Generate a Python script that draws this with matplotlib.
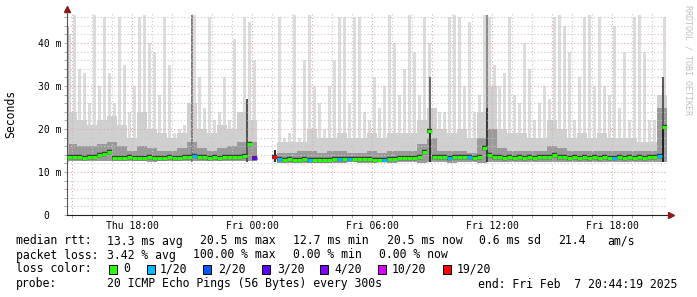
import numpy as np
import matplotlib.pyplot as plt
from matplotlib.patches import Rectangle

# time axis in hours since Thu 00:00; graph ends Fri 20:44:19, spans 30 h
t_end = 44 + 44 / 60 + 19 / 3600
t_start = t_end - 30

# top of the lightest smoke (slowest ping), 15 minute steps, ms
rtt_max = [42, 46.5, 34, 33, 26, 46.5, 30, 46, 33, 26, 46, 35, 24, 30, 46, 46.5, 40, 38, 28, 46,
           35, 19, 20, 21, 22, 46.5, 32, 25, 46, 22, 24, 32, 22, 41, 24, 46, 45, 36, np.nan, np.nan,
           np.nan, 16, 46, 18, 19, 46.5, 18, 36, 46.5, 30, 26, 20, 30, 36, 46, 46, 26, 46, 46, 24,
           22, 32, 25, 30, 46.5, 40, 28, 34, 46.5, 38, 28, 46, 40, 22, 24, 24, 46, 46.5, 46, 30,
           45, 24, 28, 46.5, 46, 35, 30, 33, 46, 28, 26, 40, 34, 22, 26, 30, 27, 46, 46.5, 44,
           38, 22, 32, 46, 46.5, 30, 46, 30, 28, 44, 25, 38, 22, 46, 46.5, 38, 22, 22, 26, 46]

# median rtt, 15 minute steps, ms
rtt_median = [13.5, 13.4, 13.5, 13.3, 13.4, 13.6, 14.0, 14.2, 14.6, 13.2, 13.3, 13.2, 13.4, 13.3, 13.2, 13.3, 13.4, 13.3, 13.2, 13.3,
              13.4, 13.3, 13.3, 13.4, 13.6, 13.8, 13.5, 13.4, 13.3, 13.4, 13.3, 13.4, 13.5, 13.4, 13.6, 13.7, 16.5, 13.2, np.nan, np.nan,
              np.nan, 13.6, 13.1, 12.9, 13.0, 12.9, 12.7, 13.0, 12.9, 12.8, 12.9, 12.8, 12.9, 13.0, 13.0, 13.0, 13.1, 13.0, 13.1, 13.0,
              13.0, 12.9, 12.9, 12.8, 13.0, 13.1, 13.2, 13.2, 13.3, 13.2, 13.4, 14.6, 19.5, 13.6, 13.5, 13.4, 13.3, 13.5, 13.6, 13.5,
              13.4, 13.3, 13.4, 15.5, 14.0, 13.6, 13.4, 13.3, 13.4, 13.3, 13.4, 13.3, 13.4, 13.3, 13.4, 13.5, 13.6, 14.0, 13.5, 13.4,
              13.3, 13.4, 13.3, 13.4, 13.3, 13.4, 13.3, 13.4, 13.3, 13.2, 13.4, 13.2, 13.5, 13.3, 13.4, 13.3, 13.5, 13.4, 13.8, 20.5]

# steps with packet loss (index into the 15 minute steps) and lost pings of 20
loss_steps = [25, 37, 41, 42, 48, 54, 56, 63, 76, 80, 109, 118]
loss_counts = [1, 3, 19, 1, 1, 1, 1, 1, 1, 1, 1, 1]

# inner smoke bands, 30 minute steps, ms
rtt_mid = [24, 22, 21, 22, 23, 21, 18, 24, 20, 19, 18, 19, 26, 20, 19, 21, 20, 24, 22, np.nan,
           np.nan, 17, 17, 17, 20, 18, 18, 19, 18, 18, 19, 18, 19, 19, 19, 22, 25, 20, 19, 20,
           18, 24, 30, 20, 19, 19, 18, 18, 22, 20, 18, 19, 18, 19, 18, 18, 18, 17, 17, 28]
rtt_dark = [16.5, 16, 16, 16.5, 17, 16, 15, 16, 15.5, 15, 15, 15.5, 17, 15.5, 15, 15.5, 16, 17, 17, np.nan,
            np.nan, 14.5, 14.5, 15, 15, 14.5, 15, 15, 14.5, 14.5, 15, 14.5, 15, 15, 15, 16.5, 18, 15, 15, 15,
            14.5, 18, 20, 15.5, 15, 15, 15, 15, 16, 15.5, 15, 15, 15, 15, 15, 15, 15, 15, 15, 25]
rtt_floor = [12.6, 12.5, 12.6, 12.5, 12.5, 12.6, 12.5, 12.5, 12.4, 12.5, 12.5, 12.6, 12.5, 12.5, 12.6, 12.5, 12.5, 12.6, 12.5, np.nan,
             np.nan, 12.2, 12.1, 12.2, 12.2, 12.1, 12.2, 12.2, 12.3, 12.2, 12.2, 12.3, 12.2, 12.3, 12.3, 12.2, 12.3, 12.3, 12.2, 12.3,
             12.3, 12.2, 12.3, 12.3, 12.4, 12.3, 12.3, 12.3, 12.4, 12.3, 12.3, 12.4, 12.3, 12.3, 12.4, 12.3, 12.3, 12.4, 12.3, 12.4]

# narrow dense smoke columns (hour, top in ms)
dense_times = [14.79, 20.99, 23.74, 25.14, 32.89, 32.89, 35.74, 35.74, 44.54, 44.54]
dense_tops = [44, 46.5, 27, 15.2, 32, 20, 46.5, 25, 32, 21]
dense_shade = ['#b4b4b4', '#7c7c7c', '#555555', '#2a2a2a', '#6a6a6a', '#2e2e2e',
               '#8a8a8a', '#3c3c3c', '#5a5a5a', '#222222']

loss_levels = [0, 1, 2, 3, 4, 10, 19]
loss_colors = ['#26ff00', '#00b8ff', '#0059ff', '#5e00ff', '#7e00ff', '#dd00ff', '#ff0000']

tick_hours = [18, 24, 30, 36, 42]
tick_names = ['Thu 18:00', 'Fri 00:00', 'Fri 06:00', 'Fri 12:00', 'Fri 18:00']
ytick_vals = [0, 10, 20, 30, 40]
ytick_names = ['0  ', '10 m', '20 m', '30 m', '40 m']

rtt_stats = ['13.3 ms avg', '20.5 ms max', '12.7 ms min', '20.5 ms now', '0.6 ms sd', '21.4', 'am/s']
loss_stats = ['3.42 % avg', '100.00 % max', '0.00 % min', '0.00 % now']
probe_text = '20 ICMP Echo Pings (56 Bytes) every 300s'
end_text = 'end: Fri Feb  7 20:44:19 2025'

mono = 'DejaVu Sans Mono'
W, H = 697, 297

fig = plt.figure(figsize=(W / 100, H / 100), dpi=100)
fig.patch.set_facecolor('white')
ax = fig.add_axes([67 / W, 82 / H, 600 / W, 203 / H])

# smoke
t15 = t_start + 0.25 * np.arange(len(rtt_max))
t30 = t_start + 0.5 * np.arange(len(rtt_mid))
mx = np.array(rtt_max)
fl = np.array(rtt_floor)
fl15 = fl[np.arange(len(rtt_max)) // 2]
ok = ~np.isnan(mx) & ~np.isnan(fl15)
ax.bar(t15[ok] + 0.125, mx[ok] - fl15[ok], bottom=fl15[ok], width=0.19,
       color='#dcdcdc', linewidth=0, zorder=1)
for band, col in [(rtt_mid, '#d0d0d0'), (rtt_dark, '#9a9a9a')]:
    b = np.array(band)
    ok2 = ~np.isnan(b) & ~np.isnan(fl)
    ax.bar(t30[ok2], b[ok2] - fl[ok2], bottom=fl[ok2], width=0.5, align='edge',
           color=col, linewidth=0, zorder=1)
ax.bar(dense_times, np.array(dense_tops) - 12.3, bottom=12.3, width=0.1,
       color=dense_shade, linewidth=0, zorder=1)

# median line coloured by loss
med = np.array(rtt_median)
edges = t_start + 0.25 * np.arange(len(rtt_median) + 1)
cols = [loss_colors[0]] * len(rtt_median)
for s, c in zip(loss_steps, loss_counts):
    cols[s] = loss_colors[loss_levels.index(c)]
ax.hlines(med, edges[:-1], edges[1:], color='#3a3a3a', lw=3.2, zorder=3, capstyle='butt')
ax.hlines(med, edges[:-1], edges[1:], colors=cols, lw=2.2, zorder=4, capstyle='butt')

ax.set_xlim(t_start, t_end)
ax.set_ylim(0, 203 / 4.3)

# grid
ax.set_xticks(np.arange(15, 44, 3))
ax.set_xticklabels([tick_names[tick_hours.index(h)] if h in tick_hours else '' for h in range(15, 44, 3)])
ax.set_xticks(np.arange(15, 45, 1), minor=True)
ax.set_yticks(ytick_vals)
ax.set_yticklabels(ytick_names)
ax.set_yticks(np.arange(0, 47, 2), minor=True)
ax.grid(which='minor', color='#c8c8c8', linestyle=(0, (1, 2)), lw=0.8)
ax.grid(which='major', color='#e0a8a8', linestyle=(0, (1, 2)), lw=0.8)
ax.tick_params(which='both', direction='out', length=2, width=0.6, color='#999999',
               labelsize=7, pad=2)
for lab in ax.get_xticklabels() + ax.get_yticklabels():
    lab.set_fontfamily(mono)

for side in ['top', 'right']:
    ax.spines[side].set_visible(False)
ax.spines['left'].set_color('#555555')
ax.spines['bottom'].set_color('#222222')
ax.plot([0], [1 + 3 / 203], marker='^', ms=4, color='#8b1a1a', transform=ax.transAxes, clip_on=False)
ax.plot([1 + 4 / 600], [0], marker='>', ms=4, color='#8b1a1a', transform=ax.transAxes, clip_on=False)

fig.text(11 / W, 1 - 114 / H, 'Seconds', rotation=90, fontsize=8.3, family=mono,
         ha='center', va='center')
fig.text(688 / W, 1 - 60 / H, 'RRDTOOL / TOBI OETIKER', rotation=270, fontsize=6,
         family=mono, color='#c0c0c0', ha='center', va='center')

def put(x, y, s):
    fig.text(x / W, 1 - y / H, s, fontsize=8.3, family=mono, ha='left', va='center')

put(16, 241, 'median rtt:')
for x, s in zip([107, 200, 293, 387, 479, 558, 607], rtt_stats):
    put(x, 241, s)
put(16, 255, 'packet loss:')
for x, s in zip([107, 193, 293, 379], loss_stats):
    put(x, 255, s)
put(16, 269, 'loss color:')
for bx, tx, lv, col in zip([109, 147, 203, 262, 320, 378, 443],
                           [123, 160, 218, 277, 334, 392, 457], loss_levels, loss_colors):
    fig.patches.append(Rectangle((bx / W, 1 - 273.5 / H), 7.5 / W, 9 / H, transform=fig.transFigure,
                                 facecolor=col, edgecolor='black', lw=0.7))
    put(tx, 269, str(lv) if lv == 0 else f'{lv}/20')
put(16, 284, 'probe:')
put(107, 284, probe_text)
put(478, 284, end_text)

fig.savefig('out.png', dpi=100)
plt.close(fig)
